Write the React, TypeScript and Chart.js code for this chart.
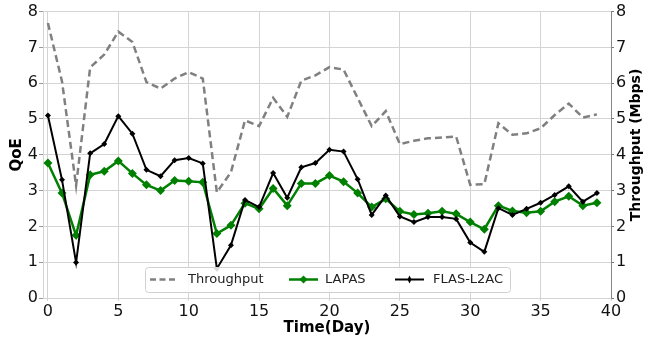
import React, { useEffect, useRef } from "react";
import { Chart, registerables } from "chart.js";

Chart.register(...registerables);

const days = Array.from({ length: 40 }, (_, i) => i);
const throughput = [7.68, 6.05, 3.14, 6.44, 6.8, 7.44, 7.15, 6.03, 5.85, 6.13, 6.31, 6.13, 2.95, 3.51, 4.96, 4.8, 5.59, 5.06, 6.07, 6.22, 6.45, 6.38, 5.59, 4.8, 5.22, 4.3, 4.39, 4.46, 4.48, 4.51, 3.16, 3.18, 4.88, 4.56, 4.6, 4.74, 5.11, 5.43, 5.04, 5.13];
const lapas = [3.77, 2.93, 1.75, 3.44, 3.54, 3.83, 3.48, 3.16, 3.0, 3.28, 3.26, 3.23, 1.8, 2.03, 2.65, 2.49, 3.06, 2.58, 3.2, 3.2, 3.42, 3.25, 2.93, 2.54, 2.77, 2.42, 2.33, 2.37, 2.42, 2.35, 2.12, 1.92, 2.58, 2.43, 2.38, 2.42, 2.69, 2.84, 2.58, 2.66];
const flas = [5.1, 3.3, 0.99, 4.04, 4.3, 5.08, 4.59, 3.58, 3.4, 3.85, 3.91, 3.76, 0.82, 1.47, 2.74, 2.54, 3.49, 2.8, 3.65, 3.77, 4.14, 4.09, 3.32, 2.32, 2.86, 2.28, 2.12, 2.26, 2.26, 2.21, 1.55, 1.29, 2.51, 2.32, 2.49, 2.66, 2.88, 3.12, 2.69, 2.93];
const xTicks = [0, 5, 10, 15, 20, 25, 30, 35, 40];
const seriesNames = ["Throughput", "LAPAS", "FLAS-L2AC"];
const xTitle = "Time(Day)";
const yTitle = "QoE";
const y2Title = "Throughput (Mbps)";

const FONT = "'DejaVu Sans', sans-serif";
const GRID = "#d4d4d4";

const toPts = (arr: number[]) => arr.map((v, i) => ({ x: days[i], y: v }));

const titlesPlugin = {
  id: "titles",
  afterDraw(chart: any) {
    const ctx = chart.ctx;
    const ca = chart.chartArea;
    ctx.save();
    ctx.fillStyle = "#000";
    ctx.textAlign = "center";
    ctx.textBaseline = "middle";
    ctx.font = `bold 15px ${FONT}`;
    ctx.fillText(xTitle, (ca.left + ca.right) / 2, 328);
    ctx.save();
    ctx.translate(17, (ca.top + ca.bottom) / 2);
    ctx.rotate(-Math.PI / 2);
    ctx.fillText(yTitle, 0, 0);
    ctx.restore();
    ctx.save();
    ctx.font = `bold 14px ${FONT}`;
    ctx.translate(636, 145);
    ctx.rotate(-Math.PI / 2);
    ctx.fillText(y2Title, 0, 0);
    ctx.restore();
    ctx.restore();
  },
};

const legendPlugin = {
  id: "customLegend",
  afterDatasetsDraw(chart: any) {
    const ctx = chart.ctx;
    ctx.save();
    const bx = 145, by = 267, bw = 365, bh = 25;
    ctx.beginPath();
    ctx.roundRect(bx + 0.5, by + 0.5, bw, bh, 3);
    ctx.fillStyle = "rgba(255,255,255,0.85)";
    ctx.fill();
    ctx.strokeStyle = "#d0d0d0";
    ctx.lineWidth = 1;
    ctx.stroke();
    const cy = by + bh / 2;
    ctx.font = `13px ${FONT}`;
    ctx.textBaseline = "middle";
    ctx.textAlign = "left";
    // Throughput
    ctx.strokeStyle = "#808080";
    ctx.lineWidth = 2.5;
    ctx.setLineDash([6, 3.5]);
    ctx.beginPath();
    ctx.moveTo(150, cy);
    ctx.lineTo(176, cy);
    ctx.stroke();
    ctx.setLineDash([]);
    ctx.fillStyle = "#222";
    ctx.fillText(seriesNames[0], 188, cy);
    // LAPAS
    ctx.strokeStyle = "#008000";
    ctx.lineWidth = 2.5;
    ctx.beginPath();
    ctx.moveTo(289, cy);
    ctx.lineTo(318, cy);
    ctx.stroke();
    ctx.fillStyle = "#008000";
    ctx.beginPath();
    ctx.moveTo(303.5, cy - 4);
    ctx.lineTo(307.5, cy);
    ctx.lineTo(303.5, cy + 4);
    ctx.lineTo(299.5, cy);
    ctx.closePath();
    ctx.fill();
    ctx.fillStyle = "#222";
    ctx.fillText(seriesNames[1], 325, cy);
    // FLAS
    ctx.strokeStyle = "#000";
    ctx.lineWidth = 2;
    ctx.beginPath();
    ctx.moveTo(395, cy);
    ctx.lineTo(424, cy);
    ctx.stroke();
    ctx.fillStyle = "#000";
    ctx.beginPath();
    ctx.moveTo(409.5, cy - 4);
    ctx.lineTo(411.5, cy);
    ctx.lineTo(409.5, cy + 4);
    ctx.lineTo(407.5, cy);
    ctx.closePath();
    ctx.fill();
    ctx.fillStyle = "#222";
    ctx.fillText(seriesNames[2], 433, cy);
    ctx.restore();
  },
};

export default function App() {
  const ref = useRef<HTMLCanvasElement>(null);
  useEffect(() => {
    const chart = new Chart(ref.current!, {
      type: "line",
      data: {
        datasets: [
          {
            label: seriesNames[0],
            data: toPts(throughput),
            yAxisID: "y2",
            borderColor: "#808080",
            borderWidth: 2.5,
            borderDash: [7, 4],
            pointRadius: 0,
            tension: 0,
            order: 3,
          },
          {
            label: seriesNames[1],
            data: toPts(lapas),
            yAxisID: "y",
            borderColor: "#008000",
            backgroundColor: "#008000",
            borderWidth: 2.5,
            pointStyle: "rectRot",
            pointRadius: 4.5,
            pointBorderWidth: 0,
            tension: 0,
            order: 2,
          },
          {
            label: seriesNames[2],
            data: toPts(flas),
            yAxisID: "y",
            borderColor: "#000000",
            backgroundColor: "#000000",
            borderWidth: 2,
            pointStyle: "rectRot",
            pointRadius: 3,
            pointBorderWidth: 0,
            tension: 0,
            order: 1,
          },
        ],
      },
      options: {
        animation: false,
        responsive: false,
        devicePixelRatio: 1,
        layout: { padding: { top: 10, left: 0, right: 0, bottom: 0 } },
        plugins: { legend: { display: false }, tooltip: { enabled: false } },
        scales: {
          x: {
            type: "linear",
            min: -0.35,
            max: 40,
            afterBuildTicks: (s: any) => {
              s.ticks = xTicks.map((v) => ({ value: v }));
            },
            afterFit: (s: any) => {
              s.height = 42;
            },
            ticks: { font: { family: FONT, size: 16 }, color: "#111", padding: 1, maxRotation: 0 },
            grid: { color: GRID, tickLength: 3, tickColor: GRID },
            border: { color: GRID },
          },
          y: {
            position: "left",
            min: 0,
            max: 8,
            ticks: { stepSize: 1, font: { family: FONT, size: 16 }, color: "#111", padding: 1 },
            afterFit: (s: any) => {
              s.width = 43;
            },
            grid: { color: GRID, tickLength: 4, tickColor: "#999" },
            border: { color: GRID },
          },
          y2: {
            position: "right",
            min: 0,
            max: 8,
            ticks: { stepSize: 1, font: { family: FONT, size: 16 }, color: "#111", padding: 2 },
            afterFit: (s: any) => {
              s.width = 46;
            },
            grid: { drawOnChartArea: false, tickLength: 3, tickColor: "#777" },
            border: { color: "#888" },
          },
        },
      },
      plugins: [legendPlugin, titlesPlugin],
    } as any);
    return () => chart.destroy();
  }, []);
  return (
    <div style={{ position: "fixed", left: 0, top: 0, width: 657, height: 340, background: "#fff" }}>
      <canvas ref={ref} width={657} height={340} style={{ width: 657, height: 340 }} />
    </div>
  );
}
